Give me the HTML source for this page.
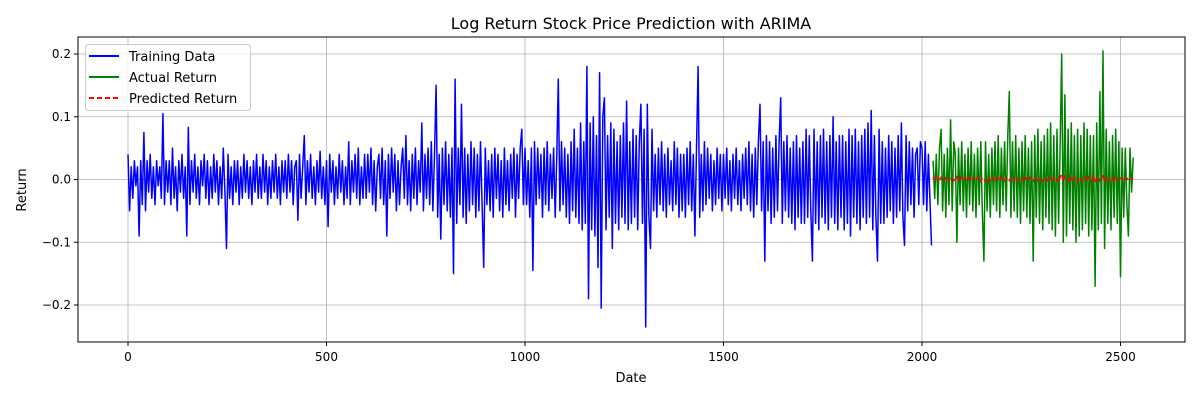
<!DOCTYPE html>
<html><head><meta charset="utf-8"><style>
body{margin:0;background:#fff;font-family:"DejaVu Sans","Liberation Sans",sans-serif;}
svg text{font-family:"DejaVu Sans","Liberation Sans",sans-serif;}
</style></head><body>
<svg id="chart" width="1200" height="400" xmlns="http://www.w3.org/2000/svg">
<rect width="1200" height="400" fill="#fff"/>
<text x="631" y="29" font-size="16" text-anchor="middle">Log Return Stock Price Prediction with ARIMA</text>
<g id="grid"></g>
<g id="series"></g>
<rect x="78" y="37" width="1107" height="305" fill="none" stroke="#000" stroke-width="1"/>
<g id="ticks"></g>
<text x="631" y="382" font-size="13" text-anchor="middle">Date</text>
<text x="26" y="190" font-size="13" text-anchor="middle" transform="rotate(-90 26 190)">Return</text>
<g>
<rect x="85.5" y="44.5" width="165" height="66" rx="3" fill="#fff" fill-opacity="0.8" stroke="#ccc"/>
<line x1="89" y1="56" x2="119" y2="56" stroke="blue" stroke-width="2"/>
<text x="129" y="61" font-size="13">Training Data</text>
<line x1="89" y1="77" x2="119" y2="77" stroke="green" stroke-width="2"/>
<text x="129" y="82" font-size="13">Actual Return</text>
<line x1="89" y1="98" x2="119" y2="98" stroke="red" stroke-width="2" stroke-dasharray="5,3"/>
<text x="129" y="103" font-size="13">Predicted Return</text>
</g>
</svg>
<script>
const xTicks=[0,500,1000,1500,2000,2500];
const yTicks=[-0.2,-0.1,0.0,0.1,0.2];
const yTickLabels=["−0.2","−0.1","0.0","0.1","0.2"];
const trainStart=0, trainStep=4;
const trainValues=[
.04,-.05,.02,-.03,.03,-.01,.02,-.09,.03,-.04,.075,-.05,.03,-.02,.04,-.03,.02,-.04,.03,-.01,.02,-.03,.105,-.04,.03,
-.02,.03,-.04,.05,-.03,.02,-.05,.03,-.02,.04,-.03,.02,-.09,.083,-.04,.03,-.02,.04,-.03,.02,-.04,.03,-.01,.04,-.03,
.03,-.04,.02,-.03,.04,-.02,.03,-.04,.02,-.03,.05,-.02,-.11,.04,-.03,.02,-.04,.03,-.02,.03,-.04,.02,-.03,.04,-.02,
.03,-.03,.02,-.04,.03,-.02,.04,-.03,.02,-.03,.04,-.02,.03,-.04,.02,-.03,.03,-.02,.04,-.03,.02,-.04,.03,-.02,.03,
-.03,.04,-.02,.03,-.04,.02,.03,-.065,.04,-.03,.02,.07,-.04,.03,-.02,.04,-.03,.02,-.04,.03,-.02,.045,-.03,.02,-.04,
.03,-.075,.04,-.02,.03,-.04,.02,-.03,.04,-.02,.03,-.04,.02,-.03,.06,-.04,.03,-.02,.04,-.03,.05,-.04,.02,-.03,.04,
-.03,.04,-.02,.05,-.04,.03,-.05,.02,.04,-.03,.05,-.04,.03,-.09,.04,-.03,.05,-.02,.04,-.05,.03,-.04,.02,.05,-.03,
.07,-.04,.03,-.05,.04,-.03,.05,-.04,.03,-.02,.09,-.05,.04,-.03,.05,-.04,.06,-.05,.04,.15,-.06,.04,-.095,.05,-.04,
.06,-.05,.04,-.06,.05,-.15,.16,-.07,.05,-.04,.12,-.06,.05,-.07,.04,-.05,.06,-.04,.05,-.06,.04,-.05,.06,-.04,-.14,
.05,-.04,.03,-.05,.04,-.06,.05,-.03,.04,-.05,.03,-.06,.05,-.04,.03,-.05,.04,-.03,.05,-.06,.04,-.03,.05,.08,-.04,
.05,-.04,.03,-.06,.05,-.145,.06,-.04,.05,-.03,.04,-.06,.05,-.04,.06,-.05,.04,-.03,.05,-.06,.04,.16,-.05,.06,-.04,
.05,-.06,.04,-.07,.06,-.05,.08,-.06,.05,-.07,.09,-.08,.06,-.07,.18,-.19,.09,-.08,.1,-.09,.07,-.14,.17,-.205,.1,
.13,-.08,.07,-.06,.09,-.11,.08,-.07,.06,-.08,.07,-.06,.09,-.07,.125,-.08,.06,-.07,.08,-.06,.07,-.08,.06,.12,-.07,
.08,-.235,.12,-.06,-.11,.08,-.05,.04,-.06,.05,-.04,.06,-.05,.04,-.06,.05,-.04,.03,-.05,.06,-.04,.05,-.06,.04,-.05,
.04,-.06,.05,-.04,.06,-.05,.04,-.09,.05,.18,-.06,.04,-.05,.06,-.04,.05,-.03,.04,-.05,.03,-.04,.05,-.03,.04,-.05,
.04,-.03,.05,-.04,.03,-.05,.04,-.03,.05,-.04,.03,-.05,.04,-.03,.05,-.04,.06,-.05,.04,-.06,.05,-.04,.06,.12,-.05,
.06,-.13,.07,-.05,.06,-.07,.05,-.06,.07,-.05,.06,.13,-.07,.06,-.05,.07,-.06,.05,-.07,.06,-.08,.07,-.06,.05,-.07,
.06,-.07,.08,-.06,.07,-.05,-.13,.08,-.07,.06,-.08,.07,-.06,.08,-.07,.06,-.08,.07,-.06,.1,-.07,.06,-.08,.07,-.06,
.07,-.08,.06,-.07,.08,-.09,.07,-.06,.08,-.07,.06,-.08,.07,-.06,.08,-.07,.09,-.06,.11,-.08,.07,-.06,-.13,.08,-.07,
.06,-.07,.05,-.06,.07,-.05,.06,-.07,.05,-.06,.07,-.05,.09,-.06,-.105,.07,-.05,.06,-.04,.05,-.06,.04,.05,-.04,.06,
.05,-.04,.06,-.05,.04,-.03,-.105];
const testStart=2028, testStep=4;
const actualValues=[
.03,-.03,.04,-.04,.05,.08,-.05,.04,-.06,.05,-.04,.095,-.05,.06,.04,-.1,.05,-.04,.06,-.05,.04,-.06,.05,-.04,.06,
-.05,.04,-.06,.05,-.04,.06,-.05,-.13,.06,-.05,.04,-.06,.05,-.04,.06,-.05,.07,-.06,.05,-.04,.06,-.05,.07,.14,-.06,
.06,-.05,.07,-.06,.05,-.07,.06,-.05,.07,-.06,.05,-.07,.06,-.13,.07,-.06,.08,-.07,.06,-.08,.07,-.06,.08,-.07,.09,
-.08,.07,-.09,.08,-.07,.06,.2,-.1,.135,-.09,.08,-.07,.09,-.08,.07,-.1,.08,-.09,.07,-.08,.09,-.07,.08,-.09,.07,
-.08,.07,-.17,.09,-.08,.14,-.07,.205,-.11,.08,-.07,.06,-.08,.07,-.06,.08,-.07,.06,-.155,.05,-.06,.05,-.04,-.09,.05,
-.02,.035];
const predictedValues=[
.004,-.002,.005,.001,-.003,.004,.002,-.002,.003,.001,-.003,.004,.002,-.002,.003,.005,-.003,.002,.004,-.001,.003,-.002,.004,.001,-.003,
.003,.001,-.002,.004,.002,-.003,.003,.001,-.004,.003,.002,-.002,.004,.001,-.003,.003,.002,-.002,.004,.001,-.003,.003,.002,-.002,.004,
.002,-.003,.004,.001,-.002,.003,.002,-.004,.003,.001,-.002,.004,.002,-.003,.003,.001,-.002,.004,.002,-.003,.003,.001,-.002,.004,.002,
-.004,.005,.002,-.003,.006,.003,.008,-.004,.006,.002,-.003,.005,.001,-.004,.004,.002,-.005,.003,.001,-.003,.004,.002,-.003,.005,.001,
-.004,.006,-.005,.003,.004,-.002,.005,.006,-.004,.002,.005,-.003,.002,.004,-.002,.003,.001,-.003,.002,.001,-.002,.003,.002,-.001,.002,
.001,.002];

const NS="http://www.w3.org/2000/svg";
const X=v=>128+(v/2000)*(922-128);
const Y=v=>179.5-v*627.5;
const grid=document.getElementById('grid'),ticks=document.getElementById('ticks'),series=document.getElementById('series');
function mk(t,a,p){const e=document.createElementNS(NS,t);for(const k in a)e.setAttribute(k,a[k]);p.appendChild(e);return e;}
xTicks.forEach(t=>{
 const gl=mk('line',{x1:X(t),x2:X(t),y1:37,y2:342,stroke:'#b0b0b0','stroke-width':0.8},grid);
 
 
 mk('line',{x1:X(t),x2:X(t),y1:342,y2:346,stroke:'#000'},ticks);
 const tx=mk('text',{x:X(t),y:361,'font-size':12,'text-anchor':'middle'},ticks);tx.textContent=t;
 
 
});
yTicks.forEach((t,i)=>{
 const gl=mk('line',{x1:78,x2:1185,y1:Y(t),y2:Y(t),stroke:'#b0b0b0','stroke-width':0.8},grid);
 
 
 mk('line',{x1:74,x2:78,y1:Y(t),y2:Y(t),stroke:'#000'},ticks);
 const tx=mk('text',{x:71,y:Y(t)+4,'font-size':12,'text-anchor':'end'},ticks);tx.textContent=yTickLabels[i];
 
 
});
function line(vals,start,step,color,dash,name){
 const d=vals.map((v,i)=>(i?'L':'M')+X(start+i*step).toFixed(1)+','+Y(v).toFixed(1)).join('');
 const p=mk('path',{d:d,fill:'none',stroke:color,'stroke-width':1.5,'stroke-linejoin':'round'},series);
 if(dash)p.setAttribute('stroke-dasharray',dash);
 
 
}
line(trainValues,trainStart,trainStep,'blue',null,'training-line');
line(actualValues,testStart,testStep,'green',null,'actual-line');
line(predictedValues,testStart,testStep,'red','5,3','predicted-line');
</script>
</body></html>
